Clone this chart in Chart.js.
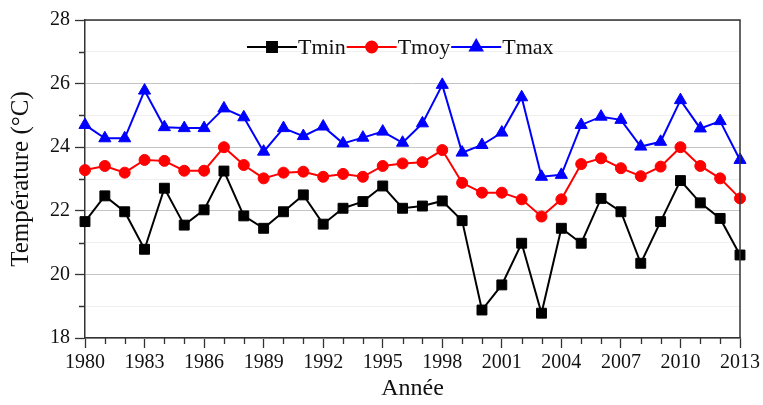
<!DOCTYPE html>
<html>
<head>
<meta charset="utf-8">
<script src="https://cdn.jsdelivr.net/npm/chart.js@4/dist/chart.umd.min.js"></script>
<style>
  html, body { margin: 0; padding: 0; background: #fff; }
  #wrap { width: 763px; height: 405px; }
</style>
</head>
<body>
<div id="wrap"><canvas id="chart" width="763" height="405"></canvas></div>
<script>
// --- data ---
const years = [];
for (let y = 1980; y <= 2013; y++) years.push(String(y));

const tmin = [21.66, 22.47, 21.97, 20.79, 22.71, 21.55, 22.03, 23.25, 21.84, 21.45,
              21.97, 22.50, 21.58, 22.08, 22.29, 22.78, 22.08, 22.15, 22.31, 21.69,
              18.88, 19.67, 20.98, 18.78, 21.45, 20.98, 22.39, 21.97, 20.35, 21.66,
              22.95, 22.25, 21.76, 20.61];

const tmoy = [23.28, 23.41, 23.20, 23.60, 23.57, 23.26, 23.26, 24.00, 23.44, 23.02,
              23.20, 23.23, 23.07, 23.16, 23.07, 23.41, 23.49, 23.53, 23.91, 22.88,
              22.57, 22.57, 22.36, 21.82, 22.36, 23.47, 23.65, 23.34, 23.09, 23.39,
              24.00, 23.41, 23.02, 22.39];

const tmax = [24.70, 24.28, 24.28, 25.78, 24.63, 24.60, 24.60, 25.22, 24.94, 23.86,
              24.60, 24.35, 24.65, 24.12, 24.30, 24.49, 24.14, 24.75, 25.96, 23.83,
              24.07, 24.46, 25.57, 23.07, 23.13, 24.70, 24.96, 24.86, 24.02, 24.17,
              25.48, 24.59, 24.82, 23.60];

const FONT = "'Liberation Serif', 'Times New Roman', serif";
const AXIS = '#333333';

// legend drawn inside the plot: line + marker + label
const innerLegendPlugin = {
    id: 'innerLegend',
    afterDraw: function(chart) {
        const ctx = chart.ctx;
        const y = 47;
        let x = 247;
        ctx.save();
        ctx.font = '22px ' + FONT;
        ctx.textBaseline = 'middle';
        ctx.textAlign = 'left';
        chart.data.datasets.forEach(ds => {
            ctx.strokeStyle = ds.borderColor;
            ctx.lineWidth = 2;
            ctx.beginPath();
            ctx.moveTo(x, y);
            ctx.lineTo(x + 50, y);
            ctx.stroke();
            ctx.fillStyle = ds.pointBackgroundColor;
            ctx.strokeStyle = ds.pointBorderColor;
            Chart.helpers.drawPoint(ctx, {
                pointStyle: ds.pointStyle, rotation: 0,
                radius: ds.pointRadius, borderWidth: 1
            }, x + 25, y);
            ctx.fillStyle = '#111';
            ctx.fillText(ds.label, x + 51, y + 1);
            x += 51 + ctx.measureText(ds.label).width + 1;
        });
        ctx.restore();
    }
};

// frame (top + right) and the short minor ticks
const frameTicksPlugin = {
    id: 'frameTicks',
    afterDraw: function(chart) {
        const ctx = chart.ctx;
        const a = chart.chartArea;
        const xs = chart.scales.x, ys = chart.scales.y;
        ctx.save();
        ctx.strokeStyle = AXIS;
        ctx.lineWidth = 1.5;
        ctx.beginPath();
        ctx.moveTo(a.left, a.top);
        ctx.lineTo(a.right, a.top);
        ctx.lineTo(a.right, a.bottom);
        ctx.stroke();
        ctx.lineWidth = 1.3;
        ctx.beginPath();
        ys.ticks.forEach(t => {
            if (t.value % 2 === 0) return;
            const py = Math.round(ys.getPixelForValue(t.value)) + 0.5;
            ctx.moveTo(a.left, py);
            ctx.lineTo(a.left - 6, py);
        });
        xs.ticks.forEach((t, i) => {
            if (i % 3 === 0) return;
            const px = Math.round(xs.getPixelForValue(i)) + 0.5;
            ctx.moveTo(px, a.bottom);
            ctx.lineTo(px, a.bottom + 6);
        });
        ctx.stroke();
        ctx.restore();
    }
};

function makeDataset(label, data, color, style, radius) {
    return {
        label: label,
        data: data,
        borderColor: color,
        backgroundColor: color,
        pointBackgroundColor: color,
        pointBorderColor: color,
        pointStyle: style,
        pointRadius: radius,
        pointBorderWidth: 1,
        borderWidth: 2,
        tension: 0,
        fill: false
    };
}

new Chart(document.getElementById('chart').getContext('2d'), {
    type: 'line',
    data: {
        labels: years,
        datasets: [
            makeDataset('Tmin', tmin, '#000000', 'rect', 7),
            makeDataset('Tmoy', tmoy, '#ff0000', 'circle', 5.5),
            makeDataset('Tmax', tmax, '#0000ff', 'triangle', 7)
        ]
    },
    options: {
        responsive: false,
        animation: false,
        layout: { padding: { left: 0, right: 22, top: 20, bottom: 0 } },
        scales: {
            x: {
                type: 'category',
                offset: false,
                afterFit: function(s) { s.height = 67; },
                border: { color: AXIS, width: 1.5 },
                grid: {
                    drawOnChartArea: false,
                    tickLength: 10,
                    tickColor: ctx => (ctx.index % 3 === 0 ? AXIS : 'rgba(0,0,0,0)'),
                    tickWidth: 1.3
                },
                ticks: {
                    autoSkip: false,
                    maxRotation: 0,
                    padding: 3,
                    color: '#111',
                    font: { family: FONT, size: 20 },
                    callback: function(val, idx) {
                        return idx % 3 === 0 ? this.getLabelForValue(val) : '';
                    }
                },
                title: {
                    display: true,
                    text: 'Année',
                    color: '#111',
                    font: { family: FONT, size: 24 },
                    padding: { top: 0, bottom: 2 }
                }
            },
            y: {
                min: 18,
                max: 28,
                afterFit: function(s) { s.width = 85; },
                border: { color: AXIS, width: 1.5 },
                grid: {
                    color: ctx => (ctx.tick.value % 2 === 0 ? '#c4c4c4' : '#efefef'),
                    lineWidth: 1,
                    tickLength: 10,
                    tickColor: ctx => (ctx.tick.value % 2 === 0 ? AXIS : 'rgba(0,0,0,0)'),
                    tickWidth: 1.3
                },
                ticks: {
                    stepSize: 1,
                    padding: 5,
                    color: '#111',
                    font: { family: FONT, size: 20 },
                    callback: v => (v % 2 === 0 ? v : '')
                },
                title: {
                    display: true,
                    text: 'Température (°C)',
                    color: '#111',
                    font: { family: FONT, size: 25 },
                    padding: { top: 6, bottom: 0 }
                }
            }
        },
        plugins: {
            legend: { display: false },
            tooltip: { enabled: false }
        }
    },
    plugins: [innerLegendPlugin, frameTicksPlugin]
});
</script>
</body>
</html>
